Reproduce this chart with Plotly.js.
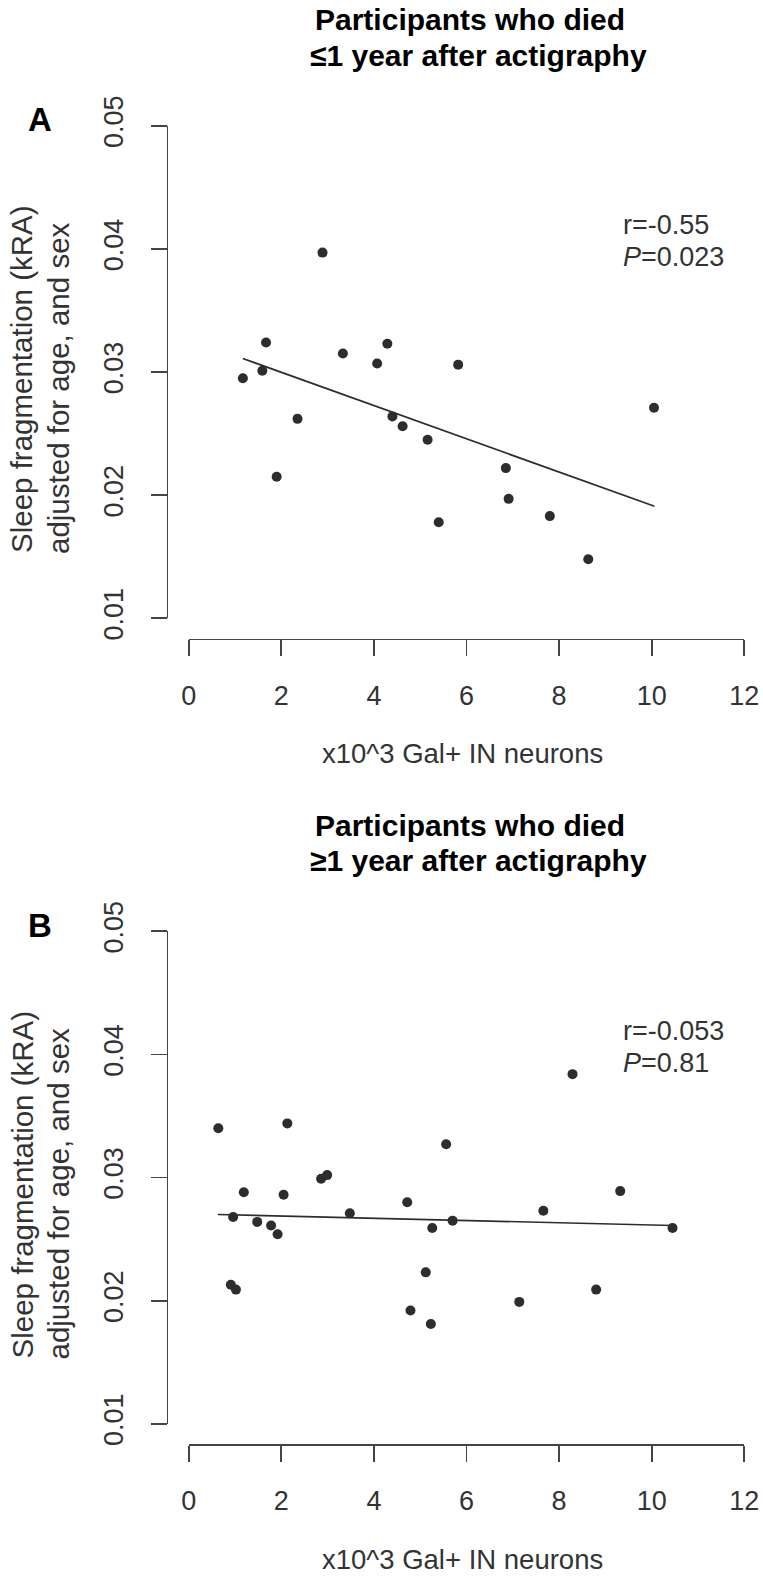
<!DOCTYPE html>
<html><head><meta charset="utf-8">
<script src="https://cdn.plot.ly/plotly-3.0.1.min.js"></script>
<style>html,body{margin:0;padding:0;background:#fff}#chart{width:763px;height:1577px}</style>
</head><body><div id="chart"></div>
<script>
// ---- data ----
const xTickVals = [0, 2, 4, 6, 8, 10, 12];
const yTickVals = [0.01, 0.02, 0.03, 0.04, 0.05];
const yTickText = ["0.01", "0.02", "0.03", "0.04", "0.05"];

// Panel A: died <=1 year after actigraphy
const neuronsA = [2.89, 1.67, 3.33, 4.29, 4.07, 5.82, 1.17, 1.59, 2.35, 4.40, 4.62, 5.16, 5.40, 1.90, 10.05, 6.85, 6.91, 7.80, 8.63];
const fragA    = [0.0397, 0.0324, 0.0315, 0.0323, 0.0307, 0.0306, 0.0295, 0.0301, 0.0262, 0.0264, 0.0256, 0.0245, 0.0178, 0.0215, 0.0271, 0.0222, 0.0197, 0.0183, 0.0148];
const fitA_x = [1.17, 10.06];
const fitA_y = [0.0311, 0.0191];
const statsA = ["r=-0.55", "<i>P</i>=0.023"];

// Panel B: died >=1 year after actigraphy
const neuronsB = [0.64, 2.13, 1.19, 2.05, 2.86, 2.99, 0.96, 1.48, 1.78, 1.92, 3.48, 4.72, 5.26, 5.70, 5.56, 5.12, 0.91, 1.02, 4.79, 5.23, 8.29, 9.32, 7.66, 10.45, 8.80, 7.14];
const fragB    = [0.0340, 0.0344, 0.0288, 0.0286, 0.0299, 0.0302, 0.0268, 0.0264, 0.0261, 0.0254, 0.0271, 0.0280, 0.0259, 0.0265, 0.0327, 0.0223, 0.0213, 0.0209, 0.0192, 0.0181, 0.0384, 0.0289, 0.0273, 0.0259, 0.0209, 0.0199];
const fitB_x = [0.63, 10.45];
const fitB_y = [0.0270, 0.0261];
const statsB = ["r=-0.053", "<i>P</i>=0.81"];

const titleLine1 = "Participants who died";
const titleLineA2 = "\u22641 year after actigraphy";
const titleLineB2 = "\u22651 year after actigraphy";
const xTitle = "x10^3 Gal+ IN neurons";
const yTitle1 = "Sleep fragmentation (kRA)";
const yTitle2 = "adjusted for age, and sex";

// ---- layout helpers (pixel -> paper) ----
const W = 763, H = 1577;
const fx = p => p / W;
const fy = p => 1 - p / H;
const FONT = "Liberation Sans, Arial, Helvetica, sans-serif";
const DARK = "#333333";
const AX = "#444444";
const OFF = 805.5; // vertical offset of panel B

function mkX(posPx) {
  return {
    domain: [fx(188.7), fx(744.3)], range: [0, 12], anchor: "free", position: fy(posPx),
    tickmode: "array", tickvals: xTickVals, ticktext: xTickVals.map(String),
    ticks: "outside", ticklen: 16, tickwidth: 1.7, tickcolor: AX,
    showline: true, linecolor: AX, linewidth: 1.7, showgrid: false, zeroline: false,
    tickfont: {family: FONT, size: 27, color: DARK}, ticklabelstandoff: 16
  };
}
function mkY(topPx, botPx) {
  return {
    domain: [fy(botPx), fy(topPx)], range: [0.01, 0.05], anchor: "free", position: fx(166.7),
    tickmode: "array", tickvals: yTickVals, ticktext: yTickText, tickangle: -90,
    ticks: "outside", ticklen: 16, tickwidth: 1.7, tickcolor: AX,
    showline: true, linecolor: AX, linewidth: 1.7, showgrid: false, zeroline: false,
    tickfont: {family: FONT, size: 27, color: DARK}, ticklabelstandoff: 17
  };
}

const traces = [
  {x: neuronsA, y: fragA, xaxis: "x", yaxis: "y", type: "scatter", mode: "markers",
   marker: {size: 10, color: "#2d2d2d"}, cliponaxis: false},
  {x: fitA_x, y: fitA_y, xaxis: "x", yaxis: "y", type: "scatter", mode: "lines",
   line: {color: "#2d2d2d", width: 1.8}, cliponaxis: false},
  {x: neuronsB, y: fragB, xaxis: "x2", yaxis: "y2", type: "scatter", mode: "markers",
   marker: {size: 10, color: "#2d2d2d"}, cliponaxis: false},
  {x: fitB_x, y: fitB_y, xaxis: "x2", yaxis: "y2", type: "scatter", mode: "lines",
   line: {color: "#2d2d2d", width: 1.6}, cliponaxis: false}
];

function ann(text, xpx, ypx, opts) {
  return Object.assign({
    text: text, xref: "paper", yref: "paper", x: fx(xpx), y: fy(ypx),
    xanchor: "center", yanchor: "middle", showarrow: false,
    font: {family: FONT, size: 29.5, color: DARK}
  }, opts || {});
}
const boldFont = {family: FONT, size: 30, color: "#000", weight: "bold"};
function panelAnns(off, line2, letter, stats) {
  return [
    ann("<b>" + titleLine1 + "</b>", 313, 20 + off, {xanchor: "left", font: boldFont}),
    ann("<b>" + line2 + "</b>", 308, 55 + off, {xanchor: "left", font: boldFont}),
    ann("<b>" + letter + "</b>", 40, 120 + off, {font: {family: FONT, size: 33, color: "#000"}}),
    ann(yTitle1, 22, 379 + off, {textangle: -90}),
    ann(yTitle2, 58, 388 + off, {textangle: -90}),
    ann(xTitle, 463, 771.5 + off, {yanchor: "bottom", font: {family: FONT, size: 27.5, color: DARK}}),
    ann(stats[0], 621, 225 + off, {xanchor: "left", font: {family: FONT, size: 27, color: DARK}}),
    ann(stats[1], 621, 257 + off, {xanchor: "left", font: {family: FONT, size: 27, color: DARK}})
  ];
}

const layout = {
  width: W, height: H, margin: {l: 0, r: 0, t: 0, b: 0},
  paper_bgcolor: "#fff", plot_bgcolor: "rgba(0,0,0,0)",
  showlegend: false, hovermode: false,
  xaxis: mkX(638.7), yaxis: mkY(125.8, 618.3),
  xaxis2: mkX(638.7 + OFF), yaxis2: mkY(125.8 + OFF, 618.3 + OFF),
  annotations: panelAnns(0, titleLineA2, "A", statsA).concat(panelAnns(OFF, titleLineB2, "B", statsB))
};

Plotly.newPlot("chart", traces, layout, {staticPlot: true, displayModeBar: false});
</script></body></html>
